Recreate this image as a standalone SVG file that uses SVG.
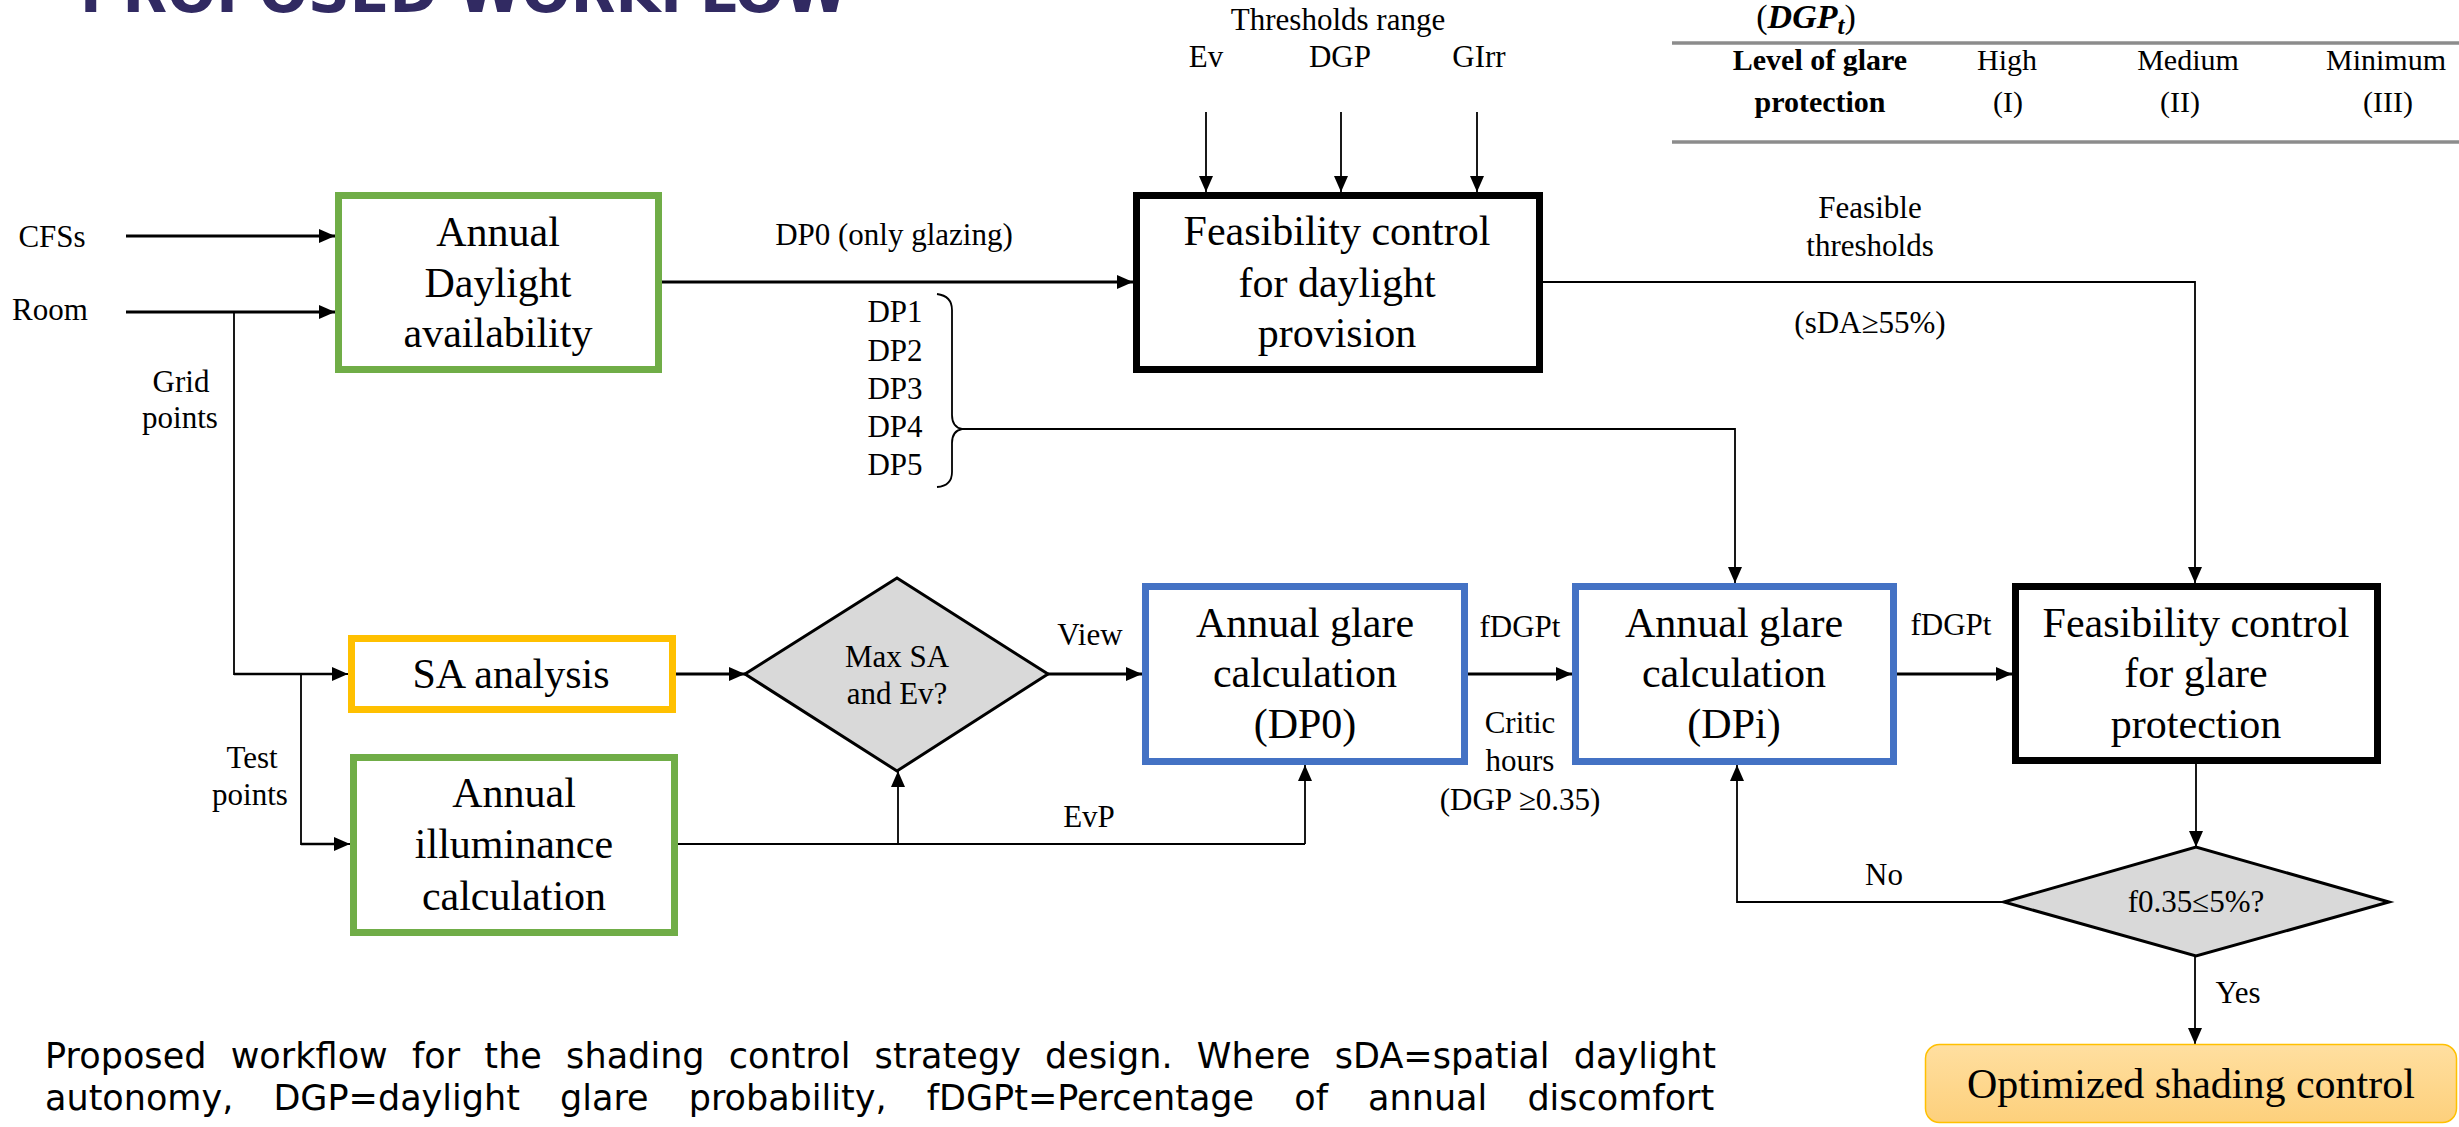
<svg xmlns="http://www.w3.org/2000/svg" width="2459" height="1127" viewBox="0 0 2459 1127">
<style>
text{font-family:"Liberation Serif","Times New Roman",serif;fill:#000}
.bx{font-size:42px;text-anchor:middle}
.lb{font-size:31px;text-anchor:middle}
.box{fill:#fff;stroke-width:7}
.g{stroke:#70ad47}.b{stroke:#4472c4}.k{stroke:#000}.y{stroke:#ffc000}
.thick{fill:none;stroke:#000;stroke-width:3}
.thin{fill:none;stroke:#000;stroke-width:1.8}
.dia{fill:#d9d9d9;stroke:#000;stroke-width:3}
.cap{font-family:"DejaVu Sans",Verdana,sans-serif;font-size:35px}
.tb{font-size:30px;text-anchor:middle}
</style>
<defs>
<marker id="ah" markerUnits="userSpaceOnUse" markerWidth="16" markerHeight="14" refX="16" refY="7" orient="auto">
<path d="M0,0 L16,7 L0,14 z" fill="#000"/>
</marker>
<linearGradient id="og" x1="0" y1="0" x2="0" y2="1">
<stop offset="0" stop-color="#ffdfa0"/>
<stop offset="1" stop-color="#fdd07c"/>
</linearGradient>
</defs>
<rect width="2459" height="1127" fill="#fff"/>
<text x="80" y="12" style="font-family:'DejaVu Sans',Verdana,sans-serif;font-weight:bold;font-size:58px;fill:#312a62" textLength="768" lengthAdjust="spacingAndGlyphs">PROPOSED WORKFLOW</text>

<g id="table">
<line x1="1672" y1="43" x2="2459" y2="43" stroke="#8c8c8c" stroke-width="3.5"/>
<line x1="1672" y1="142" x2="2459" y2="142" stroke="#8c8c8c" stroke-width="3.5"/>
<text x="1806" y="28" style="font-size:34px;text-anchor:middle">(<tspan font-weight="bold" font-style="italic">DGP</tspan><tspan font-weight="bold" font-style="italic" font-size="25" dy="6">t</tspan><tspan dy="-6">)</tspan></text>
<text x="1820" y="70" class="tb" font-weight="bold">Level of glare</text>
<text x="1820" y="112" class="tb" font-weight="bold">protection</text>
<text x="2007" y="70" class="tb">High</text>
<text x="2008" y="112" class="tb">(I)</text>
<text x="2188" y="70" class="tb">Medium</text>
<text x="2180" y="112" class="tb">(II)</text>
<text x="2386" y="70" class="tb">Minimum</text>
<text x="2388" y="112" class="tb">(III)</text>
</g>

<g id="connectors">
<line x1="1206" y1="112" x2="1206" y2="192" class="thin" marker-end="url(#ah)"/>
<line x1="1341" y1="112" x2="1341" y2="192" class="thin" marker-end="url(#ah)"/>
<line x1="1477" y1="112" x2="1477" y2="192" class="thin" marker-end="url(#ah)"/>
<line x1="126" y1="236" x2="335" y2="236" class="thick" marker-end="url(#ah)"/>
<line x1="126" y1="312" x2="335" y2="312" class="thick" marker-end="url(#ah)"/>
<line x1="662" y1="282" x2="1133" y2="282" class="thick" marker-end="url(#ah)"/>
<polyline points="1543,282 2195,282 2195,583" class="thin" marker-end="url(#ah)"/>
<path d="M937,294 Q952,296 952,310 L952,415 Q952,427 962,429 Q952,431 952,443 L952,472 Q952,486 937,487" class="thin"/>
<polyline points="962,429 1735,429 1735,583" class="thin" marker-end="url(#ah)"/>
<polyline points="234,312 234,674 348,674" class="thin" marker-end="url(#ah)"/>
<line x1="234" y1="674" x2="336" y2="674" stroke="#000" stroke-width="2.5"/>
<polyline points="301,674 301,844 350,844" class="thin" marker-end="url(#ah)"/>
<line x1="301" y1="844" x2="336" y2="844" stroke="#000" stroke-width="2.5"/>
<line x1="676" y1="674" x2="745" y2="674" class="thick" marker-end="url(#ah)"/>
<line x1="1048" y1="674" x2="1142" y2="674" class="thick" marker-end="url(#ah)"/>
<line x1="678" y1="844" x2="1305" y2="844" class="thin"/>
<line x1="898" y1="844" x2="898" y2="771" class="thin" marker-end="url(#ah)"/>
<line x1="1305" y1="844" x2="1305" y2="765" class="thin" marker-end="url(#ah)"/>
<line x1="1468" y1="674" x2="1572" y2="674" class="thick" marker-end="url(#ah)"/>
<line x1="1897" y1="674" x2="2012" y2="674" class="thick" marker-end="url(#ah)"/>
<line x1="2196" y1="764" x2="2196" y2="847" class="thin" marker-end="url(#ah)"/>
<polyline points="2004,902 1737,902 1737,765" class="thin" marker-end="url(#ah)"/>
<line x1="2195" y1="956" x2="2195" y2="1044" class="thin" marker-end="url(#ah)"/>
</g>

<g id="labels">
<text x="1338" y="30" class="lb" font-size="32">Thresholds range</text>
<text x="1206" y="67" class="lb">Ev</text>
<text x="1340" y="67" class="lb">DGP</text>
<text x="1479" y="67" class="lb">GIrr</text>
<text x="52" y="247" class="lb" font-size="32">CFSs</text>
<text x="50" y="320" class="lb" font-size="32">Room</text>
<text x="181" y="392" class="lb">Grid</text>
<text x="180" y="428" class="lb">points</text>
<text x="252" y="768" class="lb">Test</text>
<text x="250" y="805" class="lb">points</text>
<text x="894" y="245" class="lb">DP0 (only glazing)</text>
<text x="895" y="322" class="lb">DP1</text>
<text x="895" y="361" class="lb">DP2</text>
<text x="895" y="399" class="lb">DP3</text>
<text x="895" y="437" class="lb">DP4</text>
<text x="895" y="475" class="lb">DP5</text>
<text x="1870" y="218" class="lb">Feasible</text>
<text x="1870" y="256" class="lb">thresholds</text>
<text x="1870" y="333" class="lb">(sDA≥55%)</text>
<text x="1090" y="645" class="lb">View</text>
<text x="1089" y="827" class="lb">EvP</text>
<text x="1520" y="637" class="lb">fDGPt</text>
<text x="1520" y="733" class="lb">Critic</text>
<text x="1520" y="771" class="lb">hours</text>
<text x="1520" y="810" class="lb">(DGP ≥0.35)</text>
<text x="1951" y="635" class="lb">fDGPt</text>
<text x="1884" y="885" class="lb">No</text>
<text x="2238" y="1003" class="lb">Yes</text>
</g>

<g id="node-daylight">
<rect x="338.5" y="195.5" width="320" height="174" class="box g"/>
<text x="498" y="246" class="bx">Annual</text>
<text x="498" y="297" class="bx">Daylight</text>
<text x="498" y="347" class="bx">availability</text>
</g>
<g id="node-feas-daylight">
<rect x="1136.5" y="195.5" width="403" height="174" class="box k"/>
<text x="1337" y="245" class="bx">Feasibility control</text>
<text x="1337" y="297" class="bx">for daylight</text>
<text x="1337" y="347" class="bx">provision</text>
</g>
<g id="node-sa">
<rect x="351.5" y="638.5" width="321" height="71" class="box y"/>
<text x="511" y="688" class="bx">SA analysis</text>
</g>
<g id="node-illuminance">
<rect x="353.5" y="757.5" width="321" height="175" class="box g"/>
<text x="514" y="807" class="bx">Annual</text>
<text x="514" y="858" class="bx">illuminance</text>
<text x="514" y="910" class="bx">calculation</text>
</g>
<g id="node-maxsa">
<polygon points="745,674 897,578 1048,674 897,771" class="dia"/>
<text x="897" y="667" class="lb">Max SA</text>
<text x="897" y="704" class="lb">and Ev?</text>
</g>
<g id="node-glare-dp0">
<rect x="1145.5" y="586.5" width="319" height="175" class="box b"/>
<text x="1305" y="637" class="bx">Annual glare</text>
<text x="1305" y="687" class="bx">calculation</text>
<text x="1305" y="738" class="bx">(DP0)</text>
</g>
<g id="node-glare-dpi">
<rect x="1575.5" y="586.5" width="318" height="175" class="box b"/>
<text x="1734" y="637" class="bx">Annual glare</text>
<text x="1734" y="687" class="bx">calculation</text>
<text x="1734" y="738" class="bx">(DPi)</text>
</g>
<g id="node-feas-glare">
<rect x="2015.5" y="586.5" width="362" height="174" class="box k"/>
<text x="2196" y="637" class="bx">Feasibility control</text>
<text x="2196" y="687" class="bx">for glare</text>
<text x="2196" y="738" class="bx">protection</text>
</g>
<g id="node-f035">
<polygon points="2004,902 2196,847 2389,902 2196,956" class="dia"/>
<text x="2196" y="912" class="lb" font-size="29">f0.35≤5%?</text>
</g>
<g id="node-optimized">
<rect x="1925.5" y="1044.5" width="531" height="78" rx="14" fill="url(#og)" stroke="#ffc000" stroke-width="1.5"/>
<text x="2191" y="1098" class="bx" font-size="41">Optimized shading control</text>
</g>

<g id="caption">
<text x="45" y="1068" class="cap" textLength="1671" lengthAdjust="spacing" word-spacing="13">Proposed workflow for the shading control strategy design. Where sDA=spatial daylight</text>
<text x="45" y="1110" class="cap" word-spacing="29">autonomy, DGP=daylight glare probability, fDGPt=Percentage of annual discomfort</text>
</g>
</svg>
